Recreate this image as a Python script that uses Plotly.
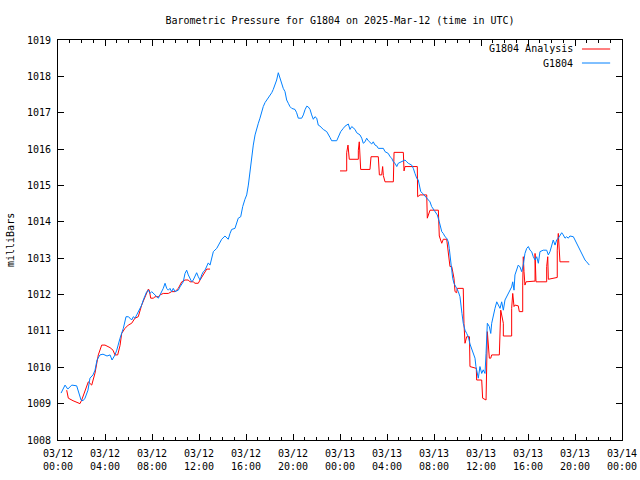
import pandas as pd
import plotly.graph_objects as go

BASE = pd.Timestamp("2025-03-12 00:00")

# G1804 observed pressure (hours since 03/12 00:00 UTC, milliBars)
obs_hours = [0.26, 0.60, 0.83, 1.17, 1.59, 1.79, 1.96, 2.13, 2.30, 2.55, 2.72, 2.98, 3.15, 3.32, 3.57, 3.83,
             4.17, 4.43, 4.60, 4.85, 5.00, 5.28, 5.56, 5.79, 5.98, 6.13, 6.27, 6.41, 6.55, 6.70, 6.98, 7.12,
             7.26, 7.40, 7.55, 7.69, 7.83, 7.97, 8.11, 8.40, 8.54, 8.68, 8.83, 8.96, 9.11, 9.25, 9.39, 9.53,
             9.67, 9.81, 9.96, 10.24, 10.38, 10.53, 10.66, 10.81, 10.95, 11.09, 11.23, 11.38, 11.51, 11.66,
             11.80, 11.94, 12.09, 12.23, 12.37, 12.51, 12.66, 12.79, 12.94, 13.08, 13.22, 13.51, 13.79, 13.93,
             14.21, 14.49, 14.64, 14.78, 15.06, 15.21, 15.34, 15.55, 15.72, 15.91, 16.06, 16.20, 16.34, 16.49,
             16.62, 16.77, 16.91, 17.05, 17.19, 17.34, 17.47, 17.62, 17.76, 17.90, 18.04, 18.19, 18.32, 18.47,
             18.61, 18.75, 18.89, 19.04, 19.17, 19.32, 19.46, 19.60, 19.74, 19.89, 20.17, 20.31, 20.45, 20.74,
             20.88, 21.02, 21.17, 21.30, 21.45, 21.59, 21.73, 21.87, 22.02, 22.15, 22.30, 22.58, 22.87, 23.15,
             23.29, 23.72, 23.85, 24.06, 24.28, 24.43, 24.71, 24.85, 25.00, 25.28, 25.42, 25.70, 25.85, 25.98,
             26.13, 26.27, 26.41, 26.55, 26.70, 26.83, 26.98, 27.12, 27.26, 27.69, 27.83, 28.11, 28.26, 28.40,
             28.54, 28.68, 28.83, 28.96, 29.25, 29.53, 29.68, 29.81, 30.10, 30.24, 30.38, 30.53, 30.66, 30.81,
             30.87, 31.04, 31.23, 31.38, 31.66, 31.80, 32.09, 32.28, 32.45, 32.51, 32.66, 32.79, 32.94, 33.08,
             33.22, 33.30, 33.36, 33.45, 33.51, 33.59, 33.70, 33.93, 34.07, 34.21, 34.30, 34.38, 34.49, 34.64,
             34.78, 34.92, 35.06, 35.21, 35.34, 35.49, 35.57, 35.68, 35.77, 35.91, 36.06, 36.19, 36.34, 36.43,
             36.54, 36.71, 36.83, 36.91, 37.05, 37.19, 37.34, 37.47, 37.62, 37.76, 37.90, 38.04, 38.19, 38.32,
             38.47, 38.61, 38.70, 38.81, 38.89, 39.04, 39.17, 39.32, 39.46, 39.60, 39.74, 39.89, 40.03, 40.17,
             40.31, 40.45, 40.60, 40.74, 40.88, 41.02, 41.30, 41.59, 41.73, 41.87, 42.02, 42.15, 42.30, 42.44,
             42.58, 42.72, 42.87, 43.00, 43.15, 43.29, 43.43, 43.57, 43.86, 44.00, 44.14, 44.28, 44.43, 44.57,
             44.71, 44.85, 44.99, 45.22]
obs_mb = [1009.29, 1009.51, 1009.40, 1009.51, 1009.49, 1009.29, 1009.10, 1009.08, 1009.15, 1009.37, 1009.70,
          1009.79, 1009.92, 1010.20, 1010.34, 1010.36, 1010.31, 1010.34, 1010.20, 1010.34, 1010.47, 1010.80,
          1011.07, 1011.39, 1011.39, 1011.35, 1011.30, 1011.39, 1011.35, 1011.44, 1011.62, 1011.71, 1011.85,
          1011.94, 1012.08, 1012.12, 1012.03, 1012.08, 1012.03, 1011.94, 1011.90, 1011.99, 1012.08, 1012.17,
          1012.31, 1012.17, 1012.12, 1012.17, 1012.08, 1012.17, 1012.08, 1012.12, 1012.21, 1012.31, 1012.35,
          1012.58, 1012.67, 1012.54, 1012.45, 1012.35, 1012.40, 1012.49, 1012.60, 1012.49, 1012.40, 1012.54,
          1012.63, 1012.67, 1012.76, 1012.87, 1012.81, 1013.00, 1013.18, 1013.27, 1013.45, 1013.52, 1013.61,
          1013.52, 1013.68, 1013.79, 1013.82, 1013.96, 1014.10, 1014.14, 1014.42, 1014.62, 1014.74, 1015.01,
          1015.42, 1015.75, 1016.11, 1016.39, 1016.52, 1016.71, 1016.85, 1017.03, 1017.17, 1017.28, 1017.35,
          1017.42, 1017.46, 1017.55, 1017.64, 1017.76, 1017.90, 1018.10, 1017.95, 1017.76, 1017.67, 1017.58,
          1017.35, 1017.26, 1017.17, 1017.12, 1017.09, 1017.00, 1016.85, 1016.85, 1016.94, 1017.08, 1017.18,
          1017.16, 1017.09, 1016.94, 1016.82, 1016.89, 1016.85, 1016.66, 1016.63, 1016.54, 1016.48, 1016.32,
          1016.23, 1016.23, 1016.34, 1016.48, 1016.57, 1016.63, 1016.69, 1016.54, 1016.62, 1016.54, 1016.45,
          1016.39, 1016.30, 1016.16, 1016.20, 1016.30, 1016.23, 1016.18, 1016.14, 1016.20, 1016.11, 1016.09,
          1016.02, 1016.02, 1015.93, 1015.88, 1015.79, 1015.75, 1015.65, 1015.61, 1015.52, 1015.61, 1015.65,
          1015.70, 1015.65, 1015.61, 1015.56, 1015.47, 1015.33, 1015.20, 1015.15, 1014.97, 1014.83, 1014.78,
          1014.71, 1014.65, 1014.55, 1014.42, 1014.28, 1014.19, 1014.00, 1013.91, 1013.73, 1013.68, 1013.59,
          1013.55, 1013.45, 1013.27, 1013.13, 1012.95, 1012.67, 1012.45, 1012.31, 1012.17, 1012.08, 1011.94,
          1011.76, 1011.48, 1011.21, 1011.02, 1010.93, 1010.84, 1010.64, 1010.50, 1010.40, 1010.25, 1010.02,
          1009.85, 1009.70, 1010.02, 1009.83, 1009.93, 1009.83, 1010.38, 1011.21, 1011.12, 1010.93, 1011.21,
          1011.44, 1011.62, 1011.80, 1011.71, 1011.62, 1011.80, 1011.57, 1011.85, 1011.94, 1012.03, 1012.12,
          1012.21, 1012.35, 1012.12, 1012.54, 1012.72, 1012.81, 1012.76, 1012.63, 1012.81, 1013.13, 1013.27,
          1013.32, 1013.22, 1013.18, 1013.04, 1012.95, 1013.04, 1012.86, 1013.18, 1013.22, 1013.22, 1013.09,
          1013.18, 1013.32, 1013.50, 1013.36, 1013.50, 1013.55, 1013.64, 1013.70, 1013.64, 1013.55, 1013.59,
          1013.55, 1013.61, 1013.59, 1013.50, 1013.41, 1013.32, 1013.18, 1013.09, 1013.00, 1012.95, 1012.90,
          1012.81]

# G1804 Analysis (None marks the data gap)
ana_hours = [0.74, 0.88, 1.28, 1.59, 1.87, 2.02, 2.30, 2.58, 2.87, 3.15, 3.43, 3.72, 4.00, 4.43, 4.68, 4.85,
             5.08, 5.28, 5.42, 5.70, 5.98, 6.27, 6.55, 6.83, 7.12, 7.40, 7.69, 7.77, 7.89, 8.11, 8.26, 8.54,
             8.68, 8.96, 9.39, 9.67, 9.96, 10.24, 10.53, 10.81, 11.09, 11.23, 11.51, 11.66, 11.94, 12.09, 12.37,
             12.66, 12.94, None,
             24.00, 24.57, 24.57, 24.68, 24.79, 25.56, 25.56, 25.64, 25.76, 26.55, 26.64, 27.26, 27.35, 27.55,
             27.63, 27.69, 27.83, 28.54, 28.60, 29.39, 29.45, 29.53, 30.58, 30.61, 30.81, 31.38, 31.43, 31.60,
             31.66, 32.37, 32.45, 32.66, 32.79, 33.08, 33.19, 33.36, 33.51, 33.70, 33.79, 33.93, 33.98, 34.49,
             34.55, 34.64, 34.78, 35.02, 35.06, 35.49, 35.60, 35.63, 36.06, 36.14, 36.43, 36.54, 36.62, 36.71,
             36.83, 36.91, 37.56, 37.62, 37.68, 37.90, 37.90, 38.61, 38.61, 38.70, 38.81, 38.89, 39.17, 39.26,
             39.55, 39.55, 39.60, 39.66, 39.74, 39.83, 40.60, 40.60, 40.68, 41.59, 41.59, 41.68, 41.73, 42.49,
             42.49, 42.58, 42.66, 42.72, 43.51]
ana_mb = [1009.37, 1009.15, 1009.08, 1009.03, 1009.00, 1009.10, 1009.33, 1009.60, 1009.51, 1009.84, 1010.34,
          1010.61, 1010.61, 1010.54, 1010.47, 1010.34, 1010.34, 1010.60, 1010.93, 1011.07, 1011.16, 1011.21,
          1011.35, 1011.39, 1011.71, 1011.94, 1012.15, 1012.12, 1011.90, 1011.90, 1011.94, 1011.94, 1011.99,
          1012.03, 1012.03, 1012.08, 1012.08, 1012.17, 1012.35, 1012.40, 1012.40, 1012.35, 1012.35, 1012.31,
          1012.31, 1012.40, 1012.54, 1012.70, 1012.70, None,
          1015.40, 1015.40, 1015.90, 1016.11, 1015.72, 1015.72, 1015.97, 1016.20, 1015.44, 1015.44, 1015.79,
          1015.79, 1015.29, 1015.29, 1015.52, 1015.27, 1015.10, 1015.10, 1015.91, 1015.91, 1015.40, 1015.52,
          1015.52, 1014.69, 1014.74, 1014.74, 1014.10, 1014.28, 1014.32, 1014.32, 1013.61, 1013.41, 1013.52,
          1013.52, 1013.20, 1012.77, 1012.77, 1012.45, 1012.08, 1012.05, 1012.17, 1012.17, 1011.21, 1010.66,
          1010.84, 1010.84, 1010.02, 1009.97, 1009.97, 1009.65, 1009.65, 1009.15, 1009.10, 1010.98, 1010.61,
          1010.25, 1010.25, 1010.34, 1010.34, 1010.98, 1011.57, 1011.21, 1010.86, 1010.86, 1011.62, 1012.03,
          1011.67, 1011.71, 1011.69, 1011.53, 1011.53, 1012.26, 1013.04, 1012.63, 1012.26, 1012.35, 1012.37,
          1013.13, 1012.35, 1012.35, 1012.77, 1013.04, 1012.42, 1012.47, 1013.22, 1013.68, 1013.13, 1012.90,
          1012.90]

tick_hours = [0, 4, 8, 12, 16, 20, 24, 28, 32, 36, 40, 44, 48]
tick_labels = ["03/12<br>00:00", "03/12<br>04:00", "03/12<br>08:00", "03/12<br>12:00", "03/12<br>16:00",
               "03/12<br>20:00", "03/13<br>00:00", "03/13<br>04:00", "03/13<br>08:00", "03/13<br>12:00",
               "03/13<br>16:00", "03/13<br>20:00", "03/14<br>00:00"]
y_ticks = [1008, 1009, 1010, 1011, 1012, 1013, 1014, 1015, 1016, 1017, 1018, 1019]

series_names = ["G1804 Analysis", "G1804"]
series_colors = ["#ff0000", "#0080ff"]


def to_time(hours):
    return [None if h is None else BASE + pd.Timedelta(hours=h) for h in hours]


FONT = "DejaVu Sans Mono"
W, H = 640, 480

fig = go.Figure()
fig.add_trace(go.Scatter(x=to_time(ana_hours), y=ana_mb, mode="lines", name=series_names[0],
                         line=dict(color=series_colors[0], width=1), connectgaps=False))
fig.add_trace(go.Scatter(x=to_time(obs_hours), y=obs_mb, mode="lines", name=series_names[1],
                         line=dict(color=series_colors[1], width=1)))

fig.update_layout(
    width=W, height=H,
    margin=dict(l=58, r=18, t=40, b=40, autoexpand=False),
    paper_bgcolor="white", plot_bgcolor="white",
    showlegend=False,
    hovermode=False,
    font=dict(family=FONT, size=10, color="black"),
    title=dict(text="Barometric Pressure for G1804 on 2025-Mar-12 (time in UTC)",
               x=0.5, xref="paper", xanchor="center", y=1 - 20 / H, yanchor="middle",
               font=dict(family=FONT, size=10, color="black"), automargin=False),
    xaxis=dict(
        type="date",
        automargin=False,
        range=[BASE, BASE + pd.Timedelta(hours=48)],
        tickmode="array",
        tickvals=to_time(tick_hours),
        ticktext=tick_labels,
        ticks="inside", ticklen=6, tickcolor="black", tickwidth=1,
        ticklabelstandoff=4,
        showline=True, linecolor="black", linewidth=1, mirror="allticks",
        showgrid=False, zeroline=False,
        minor=dict(ticks="inside", ticklen=3, tickcolor="black", dtick=3600000, showgrid=False),
        tickfont=dict(family=FONT, size=10, color="black"),
    ),
    yaxis=dict(
        automargin=False,
        range=[1008, 1019],
        tickmode="array", tickvals=y_ticks, ticktext=[str(v) for v in y_ticks],
        ticks="inside", ticklen=6, tickcolor="black", tickwidth=1,
        ticklabelstandoff=4,
        showline=True, linecolor="black", linewidth=1, mirror="allticks",
        showgrid=False, zeroline=False,
        tickfont=dict(family=FONT, size=10, color="black"),
    ),
)

# y-axis label
fig.add_annotation(text="milliBars", xref="paper", yref="paper", x=(10 - 58) / 564, y=0.5,
                   textangle=-90, showarrow=False, xanchor="center", yanchor="middle",
                   font=dict(family=FONT, size=10, color="black"))

# gnuplot-style key (text right-aligned, sample line to the right)
key_rows = [0.9775, 0.9425]
for name, color, yk in zip(series_names, series_colors, key_rows):
    fig.add_annotation(text=name, xref="paper", yref="paper", x=0.9167, y=yk, showarrow=False,
                       xanchor="right", yanchor="middle", font=dict(family=FONT, size=10, color="black"))
    fig.add_shape(type="line", xref="paper", yref="paper", x0=0.929, x1=0.979, y0=yk, y1=yk,
                  line=dict(color=color, width=1))

fig.write_html("out.html",
               config={"displayModeBar": False, "staticPlot": True},
               post_script="document.body.style.margin='0';document.body.style.overflow='hidden';")
